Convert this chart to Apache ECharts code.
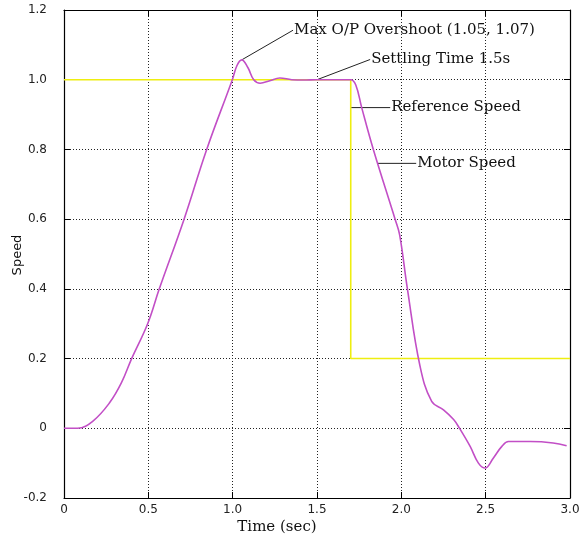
<!DOCTYPE html>
<html>
<head>
<meta charset="utf-8">
<script src="https://cdn.jsdelivr.net/npm/echarts@6/dist/echarts.min.js"></script>
<style>
  html, body { margin: 0; padding: 0; background: #fff; }
  #chart { width: 583px; height: 539px; }
</style>
</head>
<body>
<div id="chart"></div>
<script>
// reference speed step (time, speed)
const refTime = [0, 1.7, 1.7, 3.0]
const refSpeed = [1.0, 1.0, 0.2, 0.2]

// motor speed
const motorTime = [0, 0.08, 0.17, 0.27, 0.34, 0.401, 0.496, 0.565, 0.712, 0.846, 0.998,
  1.025, 1.054, 1.09, 1.125, 1.163, 1.22, 1.28, 1.35, 1.42, 1.5, 1.6, 1.7,
  1.73, 1.765, 1.834, 1.963, 1.99, 2.036, 2.11, 2.18, 2.25, 2.31, 2.345, 2.408, 2.457, 2.497,
  2.546, 2.596, 2.635, 2.764, 2.90, 2.98]
const motorSpeed = [0, 0, 0.02, 0.073, 0.13, 0.20, 0.30, 0.40, 0.60, 0.80, 1.0,
  1.04, 1.057, 1.035, 1.0, 0.99, 0.997, 1.005, 1.0, 0.999, 1.0, 1.0, 1.0,
  0.985, 0.92, 0.80, 0.60, 0.555, 0.40, 0.18, 0.077, 0.053, 0.025, 0.0, -0.052, -0.1, -0.114,
  -0.085, -0.052, -0.038, -0.038, -0.042, -0.05]

// annotations: [text, anchor on curve, label start] in data units
const notes = [
  ['Max O/P Overshoot (1.05, 1.07)', [1.054, 1.057], [1.358, 1.142]],
  ['Settling Time 1.5s', [1.5, 1.0], [1.815, 1.058]],
  ['Reference Speed', [1.7, 0.92], [1.934, 0.92]],
  ['Motor Speed', [1.858, 0.76], [2.088, 0.76]],
]

const chart = echarts.init(document.getElementById('chart'))

const fmt = (v) => (Math.abs(v) < 1e-9 ? '0' : v.toFixed(1))
const gridLine = { show: true, lineStyle: { color: '#222', type: [1, 2], width: 1 } }
const tick = { show: true, inside: true, length: 6, lineStyle: { color: '#000' } }
const axisLine = { show: true, onZero: false, lineStyle: { color: '#000', width: 1.2 } }
const serif = '15px "DejaVu Serif"'

chart.setOption({
  animation: false,
  grid: { left: 64, right: 13, top: 10, bottom: 41 },
  xAxis: [
    {
      type: 'value', min: 0, max: 3, interval: 0.5,
      axisLine, axisTick: tick, splitLine: gridLine,
      axisLabel: { formatter: fmt, color: '#222', fontFamily: 'DejaVu Sans', fontSize: 12, margin: 6 },
    },
    {
      type: 'value', position: 'top', min: 0, max: 3, interval: 0.5,
      axisLine, axisTick: tick, splitLine: { show: false }, axisLabel: { show: false },
    },
  ],
  yAxis: [
    {
      type: 'value', min: -0.2, max: 1.2, interval: 0.2,
      axisLine, axisTick: tick, splitLine: gridLine,
      axisLabel: { formatter: fmt, color: '#222', fontFamily: 'DejaVu Sans', fontSize: 12, margin: 17 },
    },
    {
      type: 'value', position: 'right', min: -0.2, max: 1.2, interval: 0.2,
      axisLine, axisTick: tick, splitLine: { show: false }, axisLabel: { show: false },
    },
  ],
  series: [
    {
      name: 'Reference Speed',
      type: 'line',
      showSymbol: false,
      lineStyle: { color: '#eeee10', width: 1.6 },
      data: refTime.map((t, i) => [t, refSpeed[i]]),
    },
    {
      name: 'Motor Speed',
      type: 'line',
      smooth: 0.4,
      showSymbol: false,
      lineStyle: { color: '#c24fc6', width: 1.6 },
      data: motorTime.map((t, i) => [t, motorSpeed[i]]),
    },
  ],
})

const px = (p) => chart.convertToPixel({ xAxisIndex: 0, yAxisIndex: 0 }, p)
const graphics = []
notes.forEach(([text, anchor, at]) => {
  const a = px(anchor)
  const b = px(at)
  graphics.push({
    type: 'line',
    shape: { x1: a[0], y1: a[1], x2: b[0], y2: b[1] },
    style: { stroke: '#222', lineWidth: 1 },
  })
  graphics.push({
    type: 'text',
    x: b[0] + 1,
    y: b[1],
    style: { text, fill: '#111', font: serif, textVerticalAlign: 'middle' },
  })
})
graphics.push({
  type: 'text', x: 277, y: 527,
  style: { text: 'Time (sec)', fill: '#111', font: serif, textAlign: 'center', textVerticalAlign: 'middle' },
})
graphics.push({
  type: 'text', x: 18, y: 255, rotation: Math.PI / 2,
  style: { text: 'Speed', fill: '#111', font: '13px "DejaVu Sans"', textAlign: 'center', textVerticalAlign: 'middle' },
})
chart.setOption({ graphic: graphics })
</script>
</body>
</html>
